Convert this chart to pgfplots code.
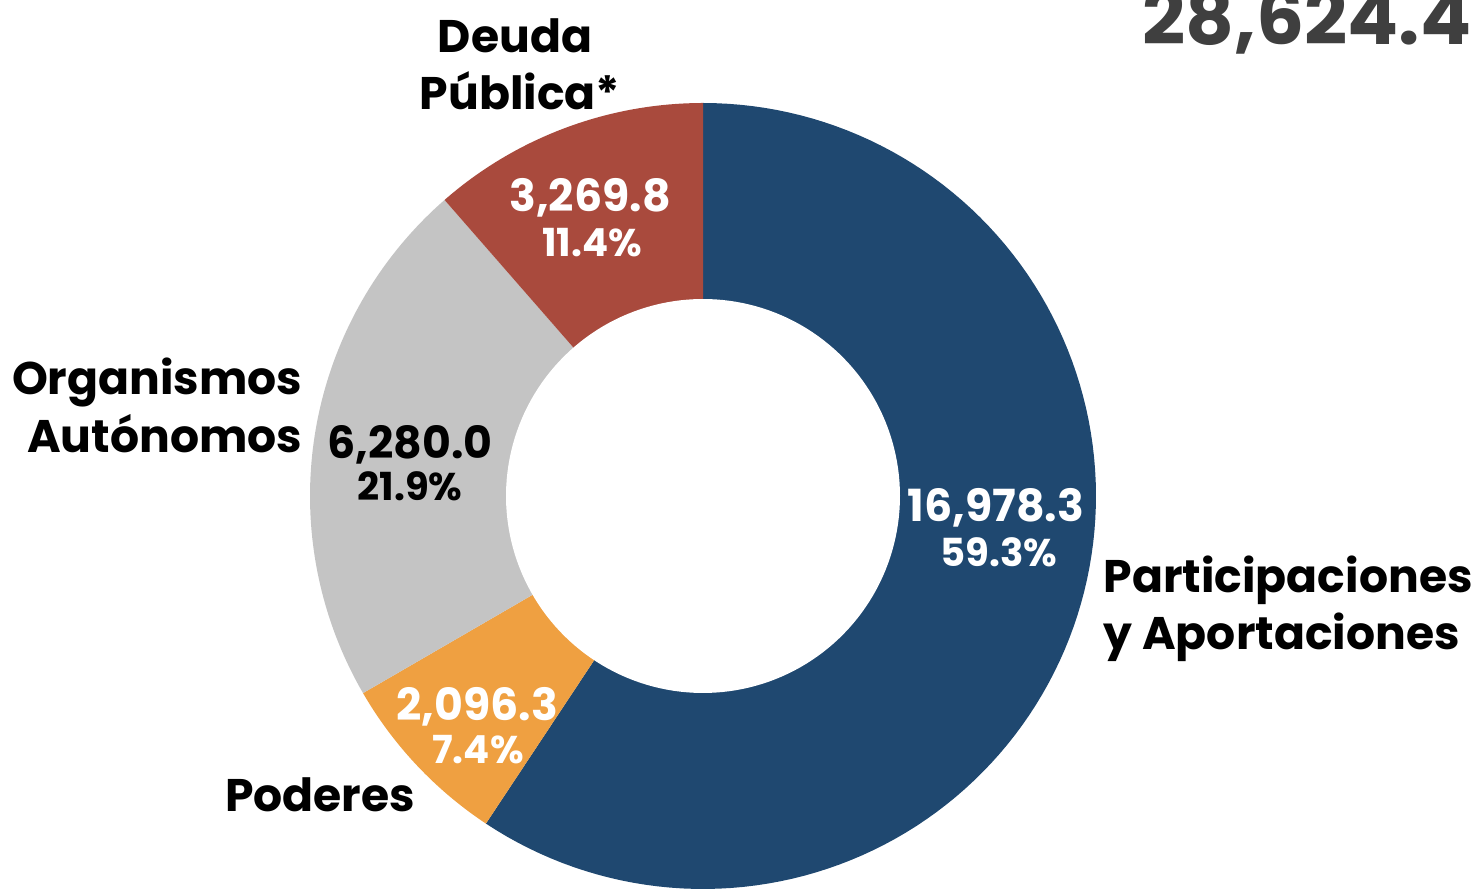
\documentclass[border=0pt]{standalone}
\usepackage{fontspec}
\setmainfont{Poppins}
\usepackage{xfp}
\usepackage{pgfplots}
\usepackage{pgfplotstable}
\pgfplotsset{compat=1.18}
\definecolor{cBlue}{HTML}{1F4870}
\definecolor{cOrange}{HTML}{EFA041}
\definecolor{cGray}{HTML}{C4C4C4}
\definecolor{cRed}{HTML}{A94A3D}
\definecolor{cTotal}{HTML}{3F3F3F}
\pgfplotstableread{
name value pct
Participaciones 16978.3 59.3
Poderes 2096.3 7.4
Organismos 6280.0 21.9
Deuda 3269.8 11.4
}\slices
\pgfplotstablegetelem{0}{value}\of\slices \let\vA\pgfplotsretval
\pgfplotstablegetelem{1}{value}\of\slices \let\vB\pgfplotsretval
\pgfplotstablegetelem{2}{value}\of\slices \let\vC\pgfplotsretval
\pgfplotstablegetelem{3}{value}\of\slices \let\vD\pgfplotsretval
\edef\tot{\fpeval{\vA+\vB+\vC+\vD}}
\edef\eA{\fpeval{round(90-360*\vA/\tot,4)}}
\edef\eB{\fpeval{round(\eA-360*\vB/\tot,4)}}
\edef\eC{\fpeval{round(\eB-360*\vC/\tot,4)}}
\def\cx{703}\def\cy{393}\def\ro{393}\def\ri{197}
\newcommand\lab{\fontsize{13}{16}\selectfont\bfseries}
\newcommand\num{\fontsize{12.6}{15}\selectfont\bfseries}
\newcommand\pc{\fontsize{11}{13}\selectfont\bfseries}
\begin{document}
\begin{tikzpicture}
\begin{axis}[
  width=14.8cm, height=8.89cm, scale only axis,
  xmin=0, xmax=1480, ymin=0, ymax=889,
  hide axis, clip=false,
]
\addplot[fill=cBlue, draw=none, domain=\eA:90, samples=120] ({\cx+\ro*cos(x)},{\cy+\ro*sin(x)}) -- (axis cs:\cx,\cy) -- cycle;
\addplot[fill=cOrange, draw=none, domain=\eB:\eA, samples=40] ({\cx+\ro*cos(x)},{\cy+\ro*sin(x)}) -- (axis cs:\cx,\cy) -- cycle;
\addplot[fill=cGray, draw=none, domain=\eC:\eB, samples=80] ({\cx+\ro*cos(x)},{\cy+\ro*sin(x)}) -- (axis cs:\cx,\cy) -- cycle;
\addplot[fill=cRed, draw=none, domain=-270:\eC, samples=50] ({\cx+\ro*cos(x)},{\cy+\ro*sin(x)}) -- (axis cs:\cx,\cy) -- cycle;
\addplot[fill=white, draw=none, domain=0:360, samples=180] ({\cx+\ri*cos(x)},{\cy+\ri*sin(x)}) -- cycle;
% category labels
\node[anchor=base, inner sep=0] at (axis cs:515,836) {\lab Deuda};
\node[anchor=base, inner sep=0] at (axis cs:520,779) {\lab Pública*};
\node[anchor=base east, inner sep=0] at (axis cs:303,494) {\lab Organismos};
\node[anchor=base east, inner sep=0] at (axis cs:303,436) {\lab Autónomos};
\node[anchor=base west, inner sep=0] at (axis cs:1103,296) {\lab Participaciones};
\node[anchor=base west, inner sep=0] at (axis cs:1103,239) {\lab y Aportaciones};
\node[anchor=base, inner sep=0] at (axis cs:320,77) {\lab Poderes};
% values
\node[anchor=base, inner sep=0, text=white] at (axis cs:590,677) {\num 3,269.8};
\node[anchor=base, inner sep=0, text=white] at (axis cs:592,632) {\pc 11.4\%};
\node[anchor=base, inner sep=0, text=black] at (axis cs:410,430) {\num 6,280.0};
\node[anchor=base, inner sep=0, text=black] at (axis cs:410,388) {\pc 21.9\%};
\node[anchor=base, inner sep=0, text=white] at (axis cs:996,367) {\num 16,978.3};
\node[anchor=base, inner sep=0, text=white] at (axis cs:999,322) {\pc 59.3\%};
\node[anchor=base, inner sep=0, text=white] at (axis cs:477,168) {\num 2,096.3};
\node[anchor=base, inner sep=0, text=white] at (axis cs:478,125) {\pc 7.4\%};
% total
\node[anchor=base east, inner sep=0, text=cTotal] at (axis cs:1472,844) {\fontsize{21.5}{24}\selectfont\bfseries 28,624.4};
\end{axis}
\pgfresetboundingbox
\path[use as bounding box] (0,0) rectangle (14.8cm,8.89cm);
\end{tikzpicture}
\end{document}
